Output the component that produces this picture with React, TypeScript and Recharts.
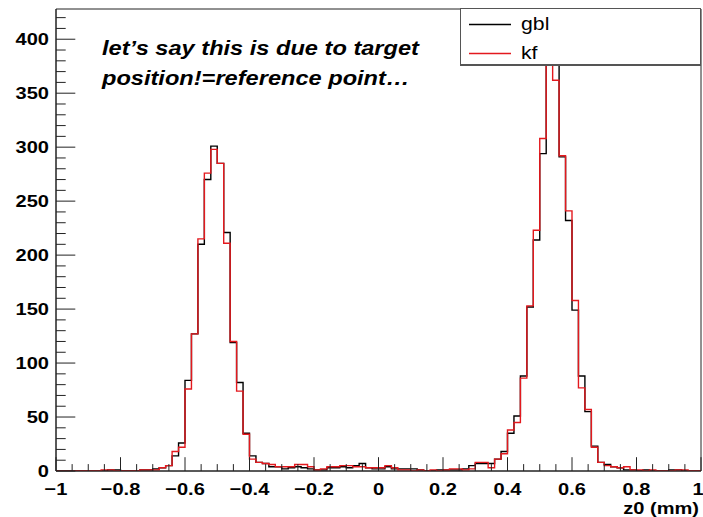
import React from 'react';
import { LineChart, Line, XAxis, YAxis, ReferenceArea, Legend } from 'recharts';

// Histogram binning
const BIN_LOW = -1;
const BIN_WIDTH = 0.02;

// Bin contents (100 bins from -1 to 1)
const gbl = [
  0, 0, 0, 0, 0, 0, 0, 0, 1, 1,
  0, 0, 0, 1, 1, 2, 3, 5, 14, 26,
  84, 127, 210, 270, 301, 285, 221, 119, 82, 35,
  14, 8, 7, 4, 4, 2, 3, 4, 3, 2,
  1, 1, 3, 3, 4, 3, 5, 7, 3, 2,
  2, 4, 2, 2, 2, 2, 1, 0, 0, 1,
  1, 1, 1, 2, 5, 7, 7, 7, 11, 18,
  35, 51, 88, 152, 214, 294, 408, 390, 291, 232,
  149, 88, 55, 23, 8, 6, 4, 3, 1, 1,
  0, 1, 0, 0, 0, 1, 1, 0, 0, 0,
];
const kf = [
  0, 0, 0, 0, 0, 0, 0, 1, 1, 0,
  0, 0, 0, 1, 1, 1, 3, 5, 18, 22,
  76, 127, 215, 276, 298, 285, 211, 120, 74, 34,
  11, 8, 7, 6, 4, 4, 4, 6, 6, 4,
  1, 2, 4, 4, 5, 5, 4, 4, 3, 3,
  3, 5, 3, 1, 1, 0, 1, 0, 1, 0,
  1, 2, 2, 1, 2, 8, 8, 3, 11, 16,
  38, 45, 86, 153, 223, 308, 405, 362, 292, 241,
  158, 77, 57, 22, 8, 5, 4, 3, 4, 1,
  1, 0, 1, 0, 0, 0, 1, 1, 0, 0,
];

const SERIES = [
  { key: 'gbl', color: '#000000' },
  { key: 'kf', color: '#e3191e' },
];

const X_DOMAIN = [-1, 1];
const Y_MAX = 428;
const X_MAJOR_LABELS = ['\u22121', '\u22120.8', '\u22120.6', '\u22120.4', '\u22120.2', '0', '0.2', '0.4', '0.6', '0.8', '1'];
const Y_MAJOR_LABELS = ['0', '50', '100', '150', '200', '250', '300', '350', '400'];
const X_TITLE = 'z0 (mm)';
const NOTE_LINES = ['let\u2019s say this is due to target', 'position!=reference point\u2026'];

const FONT = '"Liberation Sans", Arial, Helvetica, sans-serif';
const SX = 1.18;

// build step data: left edges + closing right edge
const data: any[] = gbl.map((g, i) => ({
  x: Math.round((BIN_LOW + i * BIN_WIDTH) * 100) / 100,
  gbl: g,
  kf: kf[i],
}));
data.push({ x: 1, gbl: gbl[gbl.length - 1], kf: kf[kf.length - 1] });

// tick positions: minor every 0.05 on x, every 10 on y
const X_TICKS: number[] = [];
for (let i = 0; i <= 40; i++) X_TICKS.push(Math.round((-1 + i * 0.05) * 100) / 100);
const Y_TICKS: number[] = [];
for (let v = 0; v <= 420; v += 10) Y_TICKS.push(v);

const xLabelFor = (v: number) => {
  const idx = Math.round((v + 1) * 5);
  if (Math.abs((v + 1) * 5 - idx) > 1e-6) return null;
  return X_MAJOR_LABELS[idx];
};
const yLabelFor = (v: number) => (v % 50 === 0 ? Y_MAJOR_LABELS[v / 50] ?? null : null);

const XTick = (props: any) => {
  const { x, y, payload } = props;
  const label = xLabelFor(payload.value);
  const len = label !== null ? 13.8 : 6.9;
  const isLast = payload.value === 1;
  return (
    <g>
      <line x1={x} x2={x} y1={y} y2={y - len} stroke="#222" strokeWidth={1} />
      {label !== null && (
        <g transform={`translate(${isLast ? x - 3 : x},${y + 24}) scale(${SX},1)`}>
          <text x={0} y={0} textAnchor="middle" fontSize={17} fontWeight="bold" fontFamily={FONT} fill="#000">
            {label}
          </text>
        </g>
      )}
    </g>
  );
};

const YTick = (props: any) => {
  const { x, y, payload } = props;
  const label = yLabelFor(payload.value);
  const len = label !== null ? 19.3 : 9.7;
  return (
    <g>
      <line x1={x} x2={x + len} y1={y} y2={y} stroke="#222" strokeWidth={1} />
      {label !== null && (
        <g transform={`translate(${x - 7},${y + 6}) scale(${SX},1)`}>
          <text x={0} y={0} textAnchor="end" fontSize={17} fontWeight="bold" fontFamily={FONT} fill="#000">
            {label}
          </text>
        </g>
      )}
    </g>
  );
};

const XTitle = (props: any) => {
  const vb = props.viewBox || {};
  return (
    <g transform={`translate(${vb.x + vb.width - 2},${vb.y + 43}) scale(${SX},1)`}>
      <text x={0} y={0} textAnchor="end" fontSize={17} fontWeight="bold" fontFamily={FONT} fill="#000">
        {X_TITLE}
      </text>
    </g>
  );
};

const LegendBox = (props: any) => {
  const payload = props.payload || [];
  return (
    <div
      style={{
        width: 241,
        height: 58,
        boxSizing: 'border-box',
        border: '1px solid #555',
        borderBottom: '2px solid #555',
        background: '#fff',
        position: 'relative',
        fontFamily: FONT,
        fontSize: 18,
        color: '#000',
      }}
    >
      {payload.map((p: any, i: number) => (
        <div
          key={p.value}
          style={{ position: 'absolute', left: 0, top: 0.5 + i * 29, height: 29, width: 239, display: 'flex', alignItems: 'center' }}
        >
          <svg width={60} height={29} style={{ display: 'block' }}>
            <line x1={8} x2={50} y1={14.5} y2={14.5} stroke={p.color} strokeWidth={1.3} />
          </svg>
          <span style={{ display: 'inline-block', transform: `scaleX(${SX})`, transformOrigin: 'left center', lineHeight: 'normal' }}>
            {p.value}
          </span>
        </div>
      ))}
    </div>
  );
};

export default function App() {
  return (
    <div style={{ position: 'absolute', left: 0, top: 0, width: 703, height: 517, background: '#fff' }}>
      <LineChart width={703} height={517} data={data} margin={{ top: 9, right: 2, left: 0, bottom: 0 }}>
        <ReferenceArea x1={-1} x2={1} y1={0} y2={Y_MAX} fill="none" stroke="#222" strokeWidth={1} />
        <XAxis
          type="number"
          dataKey="x"
          domain={X_DOMAIN}
          allowDataOverflow
          ticks={X_TICKS}
          interval={0}
          tickLine={false}
          tickSize={0}
          tickMargin={0}
          height={46}
          axisLine={{ stroke: '#222' }}
          tick={(p: any) => <XTick {...p} />}
          label={{ content: (p: any) => <XTitle {...p} /> }}
        />
        <YAxis
          type="number"
          domain={[0, Y_MAX]}
          allowDataOverflow
          ticks={Y_TICKS}
          interval={0}
          tickLine={false}
          tickSize={0}
          tickMargin={0}
          width={56}
          axisLine={{ stroke: '#222' }}
          tick={(p: any) => <YTick {...p} />}
        />
        {SERIES.map((s) => (
          <Line
            key={s.key}
            type="stepAfter"
            dataKey={s.key}
            name={s.key}
            stroke={s.color}
            strokeWidth={1.4}
            dot={false}
            activeDot={false}
            isAnimationActive={false}
          />
        ))}
        <Legend
          layout="vertical"
          align="center"
          verticalAlign="middle"
          wrapperStyle={{ position: 'absolute', left: 460, top: 8, width: 241, height: 58 }}
          content={(p: any) => <LegendBox {...p} />}
        />
      </LineChart>
      <div
        style={{
          position: 'absolute',
          left: 102,
          top: 33,
          fontFamily: FONT,
          fontSize: 20,
          fontWeight: 'bold',
          fontStyle: 'italic',
          lineHeight: '30px',
          color: '#000',
          whiteSpace: 'nowrap',
          transform: `scaleX(${SX})`,
          transformOrigin: 'left top',
        }}
      >
        {NOTE_LINES.map((t) => (
          <div key={t}>{t}</div>
        ))}
      </div>
    </div>
  );
}
